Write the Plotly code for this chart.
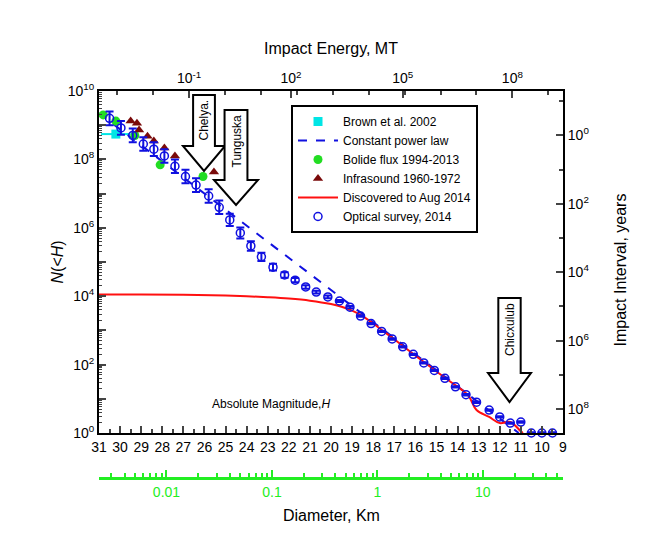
import numpy as np
import plotly.graph_objects as go

# ---- data ----
opt_H = [30.5, 29.96, 29.4, 28.9, 28.4, 27.9, 27.4, 26.9, 26.4, 25.8, 25.3, 24.8, 24.3, 23.8,
         23.3, 22.75, 22.2, 21.7, 21.2, 20.7, 20.15, 19.6, 19.1, 18.6, 18.1, 17.6, 17.1, 16.6,
         16.1, 15.6, 15.1, 14.6, 14.1, 13.6, 13.1, 12.5, 12.0, 11.5, 11.0, 10.5, 10.0, 9.5]
opt_logN = [9.2, 8.92, 8.7, 8.45, 8.3, 8.1, 7.8, 7.5, 7.25, 6.93, 6.6, 6.23, 5.85, 5.47,
            5.15, 4.85, 4.62, 4.47, 4.27, 4.12, 3.98, 3.86, 3.68, 3.42, 3.2, 2.97, 2.75, 2.52,
            2.3, 2.05, 1.83, 1.6, 1.35, 1.12, 0.9, 0.67, 0.47, 0.29, 0.32, 0.0, 0.0, 0.0]
opt_err = [0.2, 0.2, 0.2, 0.2, 0.2, 0.2, 0.2, 0.2, 0.2, 0.2, 0.2, 0.18, 0.16, 0.14,
           0.12, 0.1, 0.08, 0.06, 0.05, 0.04, 0.04, 0.03, 0.03, 0.02, 0.02, 0.02, 0.02, 0.02,
           0.02, 0.02, 0.02, 0.02, 0.02, 0.02, 0.02, 0.02, 0.02, 0.02, 0.02, 0.02, 0.02, 0.02]

brown_H = [30.2]
brown_logN = [8.74]
brown_xerr = [0.7]

power_H = [31.0, 11.1]
power_logN = [9.35, 0.0]

bolide_H = [30.8, 30.2, 29.3, 28.1, 26.07]
bolide_logN = [9.3, 9.12, 8.7, 7.84, 7.5]

infra_H = [29.5, 29.2, 29.1, 28.7, 28.4, 27.9, 27.4, 25.55]
infra_logN = [9.12, 9.06, 8.86, 8.68, 8.54, 8.33, 8.1, 7.63]

disc_H = [31, 29, 27, 25, 24, 23, 22, 21, 20, 19.5, 19, 18.5, 18, 17.5, 17, 16.5, 15.5, 14.5,
          13.5, 13.1, 12.5, 12.0, 11.5, 11.0, 10.9]
disc_logN = [4.05, 4.05, 4.04, 4.02, 4.0, 3.97, 3.93, 3.87, 3.77, 3.69, 3.58, 3.42, 3.2, 2.97,
             2.74, 2.5, 2.03, 1.57, 1.1, 0.67, 0.47, 0.29, 0.32, 0.05, 0.0]

H_ticks = list(range(31, 8, -1))
energy_H = [26.73, 21.9, 16.6, 11.4]
energy_text = ["10<sup>-1</sup>", "10<sup>2</sup>", "10<sup>5</sup>", "10<sup>8</sup>"]
diam_major = [0.01, 0.1, 1, 10]
diam_text = ["0.01", "0.1", "1", "10"]
H_at_1km = 17.8

# pixel -> paper helpers (figure 658x536, margins fixed below)
L, R, T, B = 91, 555, 83, 496
def px(x):
    return (x - L) / (R - L)
def py(y):
    return (B - y) / (B - T)

N = lambda a: [10 ** v for v in a]

fig = go.Figure()
fig.add_trace(go.Scatter(x=brown_H, y=N(brown_logN), mode="markers", name="Brown et al. 2002",
                         marker=dict(symbol="square", size=9, color="#00e5e5"),
                         error_x=dict(type="data", array=brown_xerr, color="#00e5e5", thickness=2, width=0)))
fig.add_trace(go.Scatter(x=power_H, y=N(power_logN), mode="lines", name="Constant power law",
                         line=dict(color="#1010e0", width=2, dash="dash")))
fig.add_trace(go.Scatter(x=bolide_H, y=N(bolide_logN), mode="markers", name="Bolide flux 1994-2013",
                         marker=dict(symbol="circle", size=9, color="#22dd22")))
fig.add_trace(go.Scatter(x=infra_H, y=N(infra_logN), mode="markers", name="Infrasound 1960-1972",
                         marker=dict(symbol="triangle-up", size=9, color="#7a0a0a")))
fig.add_trace(go.Scatter(x=disc_H, y=N(disc_logN), mode="lines", name="Discovered to Aug 2014",
                         line=dict(color="#ff1010", width=2, shape="spline"), cliponaxis=False))
up = [10 ** (v + e) - 10 ** v for v, e in zip(opt_logN, opt_err)]
dn = [10 ** v - 10 ** (v - e) for v, e in zip(opt_logN, opt_err)]
fig.add_trace(go.Scatter(x=opt_H, y=N(opt_logN), mode="markers", name="Optical survey, 2014",
                         marker=dict(symbol="circle-open", size=8, color="#1010e0", line=dict(width=1.5)),
                         error_y=dict(type="data", symmetric=False, array=up, arrayminus=dn,
                                      color="#1010e0", thickness=2, width=4),
                         cliponaxis=False))
# invisible traces so the extra axes are drawn
for kw in [dict(yaxis="y2"), dict(xaxis="x2"), dict(xaxis="x3")]:
    fig.add_trace(go.Scatter(x=[31], y=[1], showlegend=False, hoverinfo="skip",
                             mode="markers", marker=dict(opacity=0), **kw))

font = dict(family="Liberation Sans, Arial", size=14, color="black")
ydom = [py(425), 1]

left_major = [10 ** k for k in range(0, 11)]
left_text = ["10<sup>%d</sup>" % k if k % 2 == 0 else "" for k in range(0, 11)]
right_vals = [1, 1e2, 1e4, 1e6, 1e8]
right_text = ["10<sup>0</sup>", "10<sup>2</sup>", "10<sup>4</sup>", "10<sup>6</sup>", "10<sup>8</sup>"]

energy_minor = [energy_H[0] + (energy_H[-1] - energy_H[0]) * i / 9 for i in range(-3, 12)]
energy_minor = [h for h in energy_minor if 9 <= h <= 31]

diam_minor = []
for dec in [0.001, 0.01, 0.1, 1, 10]:
    for m in range(2, 10):
        h = H_at_1km - 5 * np.log10(dec * m)
        if 9 <= h <= 31:
            diam_minor.append(h)
diam_H = [H_at_1km - 5 * np.log10(d) for d in diam_major]

fig.update_layout(
    width=658, height=536,
    margin=dict(l=L, r=658 - R, t=T, b=536 - B, autoexpand=False),
    plot_bgcolor="white", paper_bgcolor="white",
    font=font,
    showlegend=True,
    legend=dict(x=px(283), y=py(97), xanchor="left", yanchor="top",
                bordercolor="black", borderwidth=2, bgcolor="white",
                font=dict(family="Liberation Sans, Arial", size=12), itemwidth=40,
                tracegroupgap=0),
    xaxis=dict(range=[31, 9], domain=[0, 1], anchor="y", tickvals=H_ticks, ticks="inside",
               ticklen=7, tickwidth=1.5, showline=True, linecolor="black", linewidth=2,
               showgrid=False, zeroline=False, automargin=False,
               minor=dict(dtick=0.5, tick0=0, ticks="inside", ticklen=4, tickwidth=1.5)),
    yaxis=dict(type="log", range=[0, 10], domain=ydom, tickvals=left_major, ticktext=left_text,
               ticks="inside", ticklen=7, tickwidth=1.5, showline=True, linecolor="black",
               linewidth=2, showgrid=False, zeroline=False, automargin=False,
               minor=dict(tickvals=[m * 10 ** k for k in range(0, 10) for m in range(2, 10)],
                          ticks="inside", ticklen=3, tickwidth=1)),
    yaxis2=dict(type="log", range=[8.7, -1.3], overlaying="y", side="right", anchor="x",
                tickvals=right_vals, ticktext=right_text, ticks="inside", ticklen=7,
                tickwidth=1.5, showline=True, linecolor="black", linewidth=2, showgrid=False,
                automargin=False,
                minor=dict(tickvals=[10 ** k for k in range(-1, 9)], ticks="inside", ticklen=4)),
    xaxis2=dict(range=[31, 9], overlaying="x", side="top", anchor="y", tickvals=energy_H,
                ticktext=energy_text, ticks="inside", ticklen=7, tickwidth=1.5, showline=True,
                linecolor="black", linewidth=2, showgrid=False, zeroline=False, automargin=False,
                minor=dict(tickvals=energy_minor, ticks="inside", ticklen=4, tickwidth=1.5)),
    xaxis3=dict(range=[31, 9], overlaying="x", anchor="free", position=py(470), side="bottom",
                tickvals=diam_H, ticktext=diam_text, ticks="inside", ticklen=7, tickwidth=1.5,
                tickcolor="#22ee22", tickfont=dict(color="#22ee22", size=14), showline=True,
                linecolor="#22ee22", linewidth=2.5, showgrid=False, zeroline=False,
                automargin=False,
                minor=dict(tickvals=diam_minor, ticks="inside", ticklen=4, tickwidth=1.5,
                           tickcolor="#22ee22")),
)

ann = [
    dict(text="Impact Energy, MT", x=px(323), y=py(30), size=16, angle=0),
    dict(text="Diameter, Km", x=px(323), y=py(518), size=16, angle=0),
    dict(text="<i>N</i>(&lt;<i>H</i>)", x=px(38), y=py(254), size=16, angle=-90),
    dict(text="Impact Interval, years", x=px(622), y=py(262), size=16, angle=-90),
    dict(text="Absolute Magnitude,<i>H</i>", x=px(263), y=py(405), size=12, angle=0),
]
for a in ann:
    fig.add_annotation(text=a["text"], x=a["x"], y=a["y"], xref="paper", yref="paper",
                       showarrow=False, textangle=a["angle"],
                       font=dict(family="Liberation Sans, Arial", size=a["size"], color="black"))

def block_arrow(x0, x1, ytop, yneck, ytip, label):
    w = x1 - x0
    s0, s1 = x0 + w * 0.24, x1 - w * 0.24
    pts = [(s0, ytop), (s1, ytop), (s1, yneck), (x1, yneck), ((x0 + x1) / 2, ytip),
           (x0, yneck), (s0, yneck)]
    path = "M " + " L ".join("%.4f,%.4f" % (px(x), py(y)) for x, y in pts) + " Z"
    fig.add_shape(type="path", path=path, xref="paper", yref="paper",
                  line=dict(color="black", width=2), fillcolor="white")
    fig.add_annotation(text=label, x=px((x0 + x1) / 2), y=py(ytop + 3),
                       xref="paper", yref="paper", yanchor="top", xanchor="center",
                       showarrow=False, textangle=-90,
                       font=dict(family="Liberation Sans, Arial", size=12, color="black"))

block_arrow(175, 217, 87, 138, 163, "Chelya.")
block_arrow(206, 250, 102, 172, 197, "Tunguska")
block_arrow(480, 523, 290, 365, 394, "Chicxulub")

fig.write_html("out.html")
